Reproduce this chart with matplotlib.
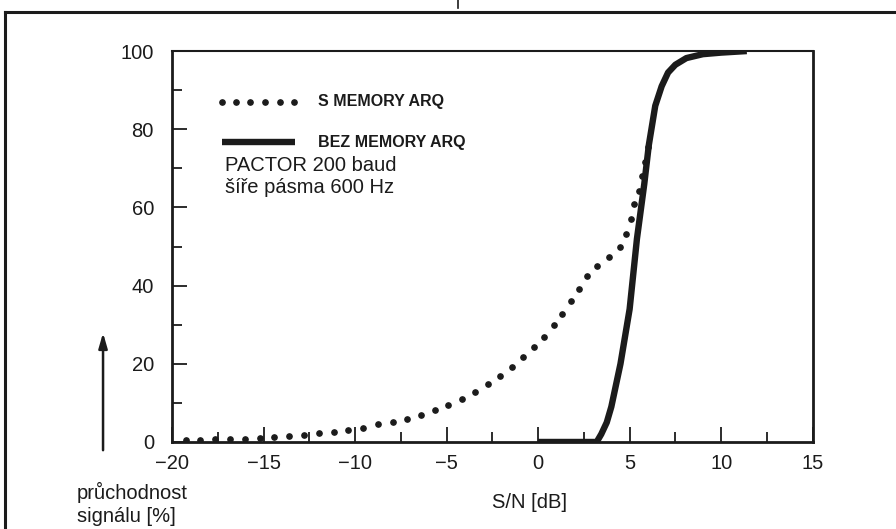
"""PACTOR 200 baud: throughput vs S/N, with and without memory ARQ."""

import matplotlib

matplotlib.use("Agg")
import matplotlib.pyplot as plt  # noqa: E402
from matplotlib.lines import Line2D  # noqa: E402
from matplotlib.ticker import MultipleLocator  # noqa: E402

_INK = "#1b1b1b"

# S MEMORY ARQ (dotted)
snr_mem = [-19.24, -18.47, -17.65, -16.83, -16.0, -15.2, -14.43, -13.61, -12.8,
           -11.97, -11.15, -10.39, -9.57, -8.75, -7.93, -7.17, -6.4, -5.64,
           -4.93, -4.16, -3.45, -2.73, -2.09, -1.45, -0.82, -0.23, 0.33, 0.85,
           1.32, 1.77, 2.21, 2.65, 3.23, 3.87, 4.48, 4.81, 5.05, 5.25, 5.52,
           5.69, 5.83, 5.98]
thr_mem = [0.5, 0.5, 0.7, 0.8, 0.8, 1.0, 1.3, 1.5, 1.9, 2.2, 2.6, 3.1, 3.7, 4.5,
           5.1, 6.0, 6.9, 8.2, 9.5, 11.0, 12.7, 14.8, 17.0, 19.3, 21.7, 24.3,
           26.9, 29.8, 32.8, 36.1, 39.2, 42.4, 45.0, 47.3, 49.8, 53.3, 57.0,
           60.9, 64.3, 68.0, 71.7, 75.5]

# BEZ MEMORY ARQ (solid)
snr_plain = [0, 3.2, 3.45, 3.75, 4.0, 4.5, 5.0, 5.4, 5.8, 6.05, 6.4, 6.75, 7.1,
             7.5, 8.1, 9.0, 10.0, 11.4]
thr_plain = [0, 0, 2, 5, 9, 20, 34, 52, 66, 76, 86, 91, 94.5, 96.5, 98.2, 99.2,
             99.6, 100]

x_ticks = [-20, -15, -10, -5, 0, 5, 10, 15]
y_ticks = [0, 20, 40, 60, 80, 100]

plt.rcParams.update({"font.family": ["Liberation Sans", "DejaVu Sans"],
                     "font.size": 14.5, "text.color": _INK,
                     "xtick.color": _INK, "ytick.color": _INK})

fig = plt.figure(figsize=(8.96, 5.29), dpi=100)
ax = fig.add_axes([0.192, 0.1645, 0.715, 0.739])

ax.plot(snr_mem, thr_mem, linestyle="none", marker="o", ms=3.8, color=_INK)
ax.plot(snr_plain, thr_plain, color=_INK, lw=4.6, solid_capstyle="butt")

ax.set_xlim(-20, 15)
ax.set_ylim(0, 100)
ax.set_xticks(x_ticks)
ax.set_yticks(y_ticks)
ax.set_xticklabels([str(v).replace("-", "\u2212") for v in x_ticks])
ax.xaxis.set_minor_locator(MultipleLocator(2.5))
ax.yaxis.set_minor_locator(MultipleLocator(10))
ax.tick_params(which="both", direction="in", width=1.3, labelsize=14.5)
ax.tick_params(which="major", length=11)
ax.tick_params(which="minor", length=7)
ax.tick_params(axis="x", pad=9)
ax.tick_params(axis="y", pad=13)
for s in ax.spines.values():
    s.set_linewidth(2)
    s.set_color(_INK)
ax.spines["top"].set_linewidth(1.5)

# hand-drawn legend
leg_x = [0.078, 0.1, 0.122, 0.145, 0.168, 0.19]
ax.plot(leg_x, [0.87] * len(leg_x), transform=ax.transAxes, linestyle="none",
        marker="o", ms=3.8, color=_INK, clip_on=False)
ax.plot([0.078, 0.192], [0.767, 0.767], transform=ax.transAxes, color=_INK,
        lw=4.6, solid_capstyle="butt")
ax.text(0.228, 0.87, "S MEMORY ARQ", transform=ax.transAxes, fontsize=11.5,
        fontweight="bold", va="center", ha="left")
ax.text(0.228, 0.767, "BEZ MEMORY ARQ", transform=ax.transAxes, fontsize=11.5,
        fontweight="bold", va="center", ha="left")
ax.text(0.083, 0.708, "PACTOR 200 baud", transform=ax.transAxes,
        va="center", ha="left")
ax.text(0.083, 0.65, "šíře pásma 600 Hz", transform=ax.transAxes,
        va="center", ha="left")

ax.text(0.5, -0.155, "S/N [dB]", transform=ax.transAxes, va="center", ha="left")

# y-axis label with arrow, bottom left
fig.add_artist(matplotlib.patches.FancyArrowPatch(
    (0.115, 0.1437), (0.115, 0.376), transform=fig.transFigure,
    arrowstyle="-|>,head_length=9,head_width=2.6", lw=1.8, color=_INK))
fig.text(0.086, 0.070, "průchodnost", va="center", ha="left")
fig.text(0.086, 0.023, "signálu [%]", va="center", ha="left")

# page frame
fig.add_artist(Line2D([0.0056, 0.0056], [0.0, 0.977], transform=fig.transFigure,
                      color=_INK, lw=2.2))
fig.add_artist(Line2D([0.0056, 1.0], [0.977, 0.977], transform=fig.transFigure,
                      color=_INK, lw=2.2))
fig.add_artist(Line2D([0.511, 0.511], [0.985, 1.0], transform=fig.transFigure,
                      color=_INK, lw=1.2))

fig.savefig("out.png", dpi=100)
